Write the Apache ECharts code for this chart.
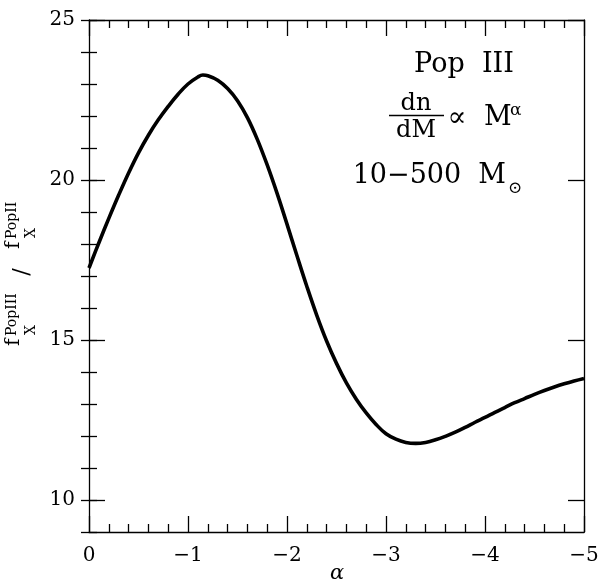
<!DOCTYPE html>
<html>
<head>
<meta charset="utf-8">
<script src="https://cdn.jsdelivr.net/npm/echarts@6/dist/echarts.min.js"></script>
<style>
html,body{margin:0;padding:0;background:#fff;}
#chart{width:602px;height:586px;}
</style>
</head>
<body>
<div id="chart"></div>
<script>
// alpha (IMF slope) and f_X^PopIII / f_X^PopII
const alphaValues = [0,-0.1,-0.2,-0.3,-0.4,-0.5,-0.6,-0.7,-0.8,-0.9,-1.0,-1.1,-1.15,-1.2,-1.3,-1.4,-1.5,-1.6,-1.7,-1.8,-1.9,-2.0,-2.1,-2.2,-2.3,-2.4,-2.5,-2.6,-2.7,-2.8,-2.9,-3.0,-3.1,-3.2,-3.3,-3.4,-3.5,-3.6,-3.7,-3.8,-3.9,-4.0,-4.1,-4.2,-4.3,-4.4,-4.5,-4.6,-4.7,-4.8,-4.9,-5.0];
const ratioValues = [17.25,18.04,18.8,19.53,20.22,20.85,21.4,21.88,22.3,22.68,23.0,23.22,23.28,23.26,23.12,22.86,22.48,21.95,21.27,20.47,19.58,18.62,17.64,16.68,15.78,14.97,14.27,13.66,13.15,12.72,12.36,12.07,11.9,11.8,11.77,11.8,11.88,11.99,12.12,12.27,12.43,12.58,12.74,12.89,13.04,13.17,13.3,13.42,13.53,13.63,13.72,13.8];
const xTicks = [0,-1,-2,-3,-4,-5];
const yMajorTicks = [10,15,20,25];
const xAxisTitle = '\u03b1';

const FONT = 'DejaVu Serif';
const chart = echarts.init(document.getElementById('chart'), null, {renderer:'canvas'});

function xFmt(v){ return v === 0 ? '0' : '\u2212' + Math.abs(v); }

const lineStyle = {color:'#000', width:1.3};
function xAxisCfg(pos, showLabel){
  return {
    type:'value', position:pos, min:-5, max:0, interval:1, inverse:true,
    axisLine:{show:true, onZero:false, lineStyle},
    axisTick:{show:true, inside:true, length:16, lineStyle},
    minorTick:{show:true, splitNumber:5, length:8, lineStyle},
    splitLine:{show:false}, minorSplitLine:{show:false},
    axisLabel:{show:showLabel, formatter:xFmt, fontFamily:FONT, fontSize:20, color:'#000', margin:14}
  };
}
function yMajorCfg(pos, showLabel){
  return {
    type:'value', position:pos, min:9, max:25,
    axisLine:{show:true, onZero:false, lineStyle},
    axisTick:{show:true, inside:true, length:16, customValues:yMajorTicks, lineStyle},
    axisLabel:{show:showLabel, customValues:yMajorTicks, fontFamily:FONT, fontSize:20, color:'#000', margin:14},
    splitLine:{show:false}
  };
}
function yMinorCfg(pos){
  return {
    type:'value', position:pos, min:9, max:25, interval:1,
    axisLine:{show:false},
    axisTick:{show:true, inside:true, length:8, lineStyle},
    axisLabel:{show:false},
    splitLine:{show:false}
  };
}

const txt = (x, y, text, size, extra) => ({
  type:'text', x, y,
  style:Object.assign({text, fontFamily:FONT, fontSize:size, fill:'#000', align:'left', verticalAlign:'middle'}, extra || {})
});

const option = {
  backgroundColor:'#fff',
  animation:false,
  grid:{left:89, top:20, right:18, bottom:54, containLabel:false, outerBoundsMode:'none'},
  xAxis:[xAxisCfg('bottom', true), xAxisCfg('top', false)],
  yAxis:[yMajorCfg('left', true), yMinorCfg('left'), yMajorCfg('right', false), yMinorCfg('right')],
  series:[{
    type:'line', xAxisIndex:0, yAxisIndex:0,
    data: alphaValues.map((a,i)=>[a, ratioValues[i]]),
    smooth:0.4, showSymbol:false,
    lineStyle:{color:'#000', width:3.6},
    z:5
  }],
  graphic:[
    // x-axis title
    txt(337, 574, xAxisTitle, 21, {align:'center', fontStyle:'italic'}),
    // y-axis title (rotated)
    {
      type:'group', x:24, y:346, rotation:Math.PI/2,
      children:[
        {type:'text', x:0, y:0, style:{text:'f', fontFamily:FONT, fontSize:20, fill:'#000', align:'left', verticalAlign:'bottom'}},
        {type:'text', x:10, y:-5, style:{text:'PopIII', fontFamily:FONT, fontSize:14, fill:'#000', align:'left', verticalAlign:'bottom'}},
        {type:'text', x:11, y:0, style:{text:'X', fontFamily:FONT, fontSize:14, fill:'#000', align:'left', verticalAlign:'top'}},
        {type:'text', x:74, y:-2, style:{text:'/', fontFamily:FONT, fontSize:22, fill:'#000', align:'center', verticalAlign:'middle'}},
        {type:'text', x:97, y:0, style:{text:'f', fontFamily:FONT, fontSize:20, fill:'#000', align:'left', verticalAlign:'bottom'}},
        {type:'text', x:107, y:-5, style:{text:'PopII', fontFamily:FONT, fontSize:14, fill:'#000', align:'left', verticalAlign:'bottom'}},
        {type:'text', x:108, y:0, style:{text:'X', fontFamily:FONT, fontSize:14, fill:'#000', align:'left', verticalAlign:'top'}}
      ]
    },
    // annotation
    txt(464, 65, 'Pop  III', 27, {align:'center'}),
    txt(416, 104, 'dn', 24, {align:'center'}),
    {type:'line', shape:{x1:389, y1:115.5, x2:444, y2:115.5}, style:{stroke:'#000', lineWidth:1.3}},
    txt(416, 131, 'dM', 24, {align:'center'}),
    txt(457, 119, '\u221d', 28, {align:'center'}),
    txt(484, 118, 'M', 27),
    txt(510, 111, '\u03b1', 17),
    txt(506, 176, '10\u2212500  M', 27, {align:'right'}),
    txt(515, 189, '\u2299', 17, {align:'center'})
  ]
};
chart.setOption(option);
</script>
</body>
</html>
